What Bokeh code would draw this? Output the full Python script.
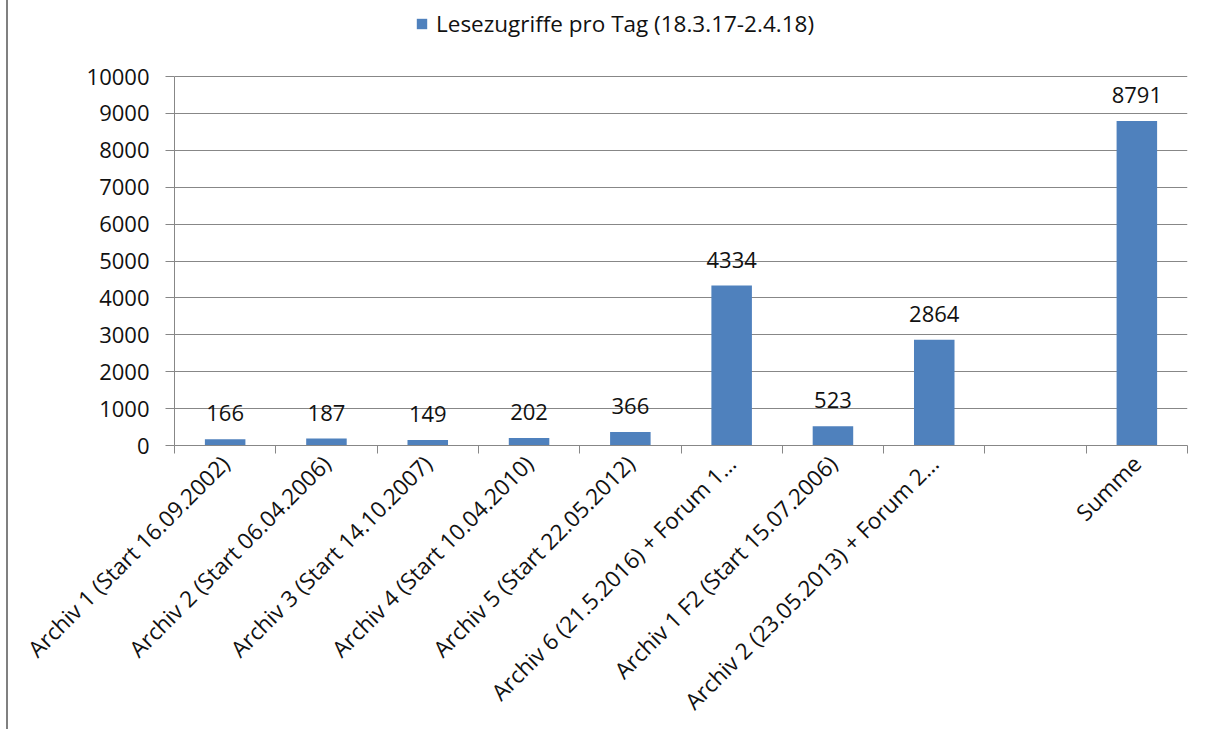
from math import pi

from bokeh.core.properties import value
from bokeh.embed import file_html
from bokeh.layouts import row
from bokeh.models import (ColumnDataSource, Div, FixedTicker, LabelSet,
                          Legend, LegendItem)
from bokeh.plotting import figure
from bokeh.resources import INLINE

# --- data -----------------------------------------------------------------
categories = [
    "Archiv 1 (Start 16.09.2002)",
    "Archiv 2 (Start 06.04.2006)",
    "Archiv 3 (Start 14.10.2007)",
    "Archiv 4 (Start 10.04.2010)",
    "Archiv 5 (Start 22.05.2012)",
    "Archiv 6 (21.5.2016) + Forum 1…",
    "Archiv 1 F2 (Start 15.07.2006)",
    "Archiv 2 (23.05.2013) + Forum 2…",
    "",
    "Summe",
]
values = [166, 187, 149, 202, 366, 4334, 523, 2864, None, 8791]
series_name = "Lesezugriffe pro Tag (18.3.17-2.4.18)"
y_ticks = list(range(0, 10001, 1000))
y_max = 10000

# --- styling --------------------------------------------------------------
FONT = "Open Sans"
BAR = "#4F81BD"
GRID = "#878787"
TEXT = "#111111"

FRAME_H = 445          # frame reaches the top edge; the legend sits inside it
AXIS_TOP = 76          # pixel row of the highest gridline

centers = [i + 0.5 for i in range(len(categories))]
tops = [float("nan") if v is None else v for v in values]
labels = ["" if v is None else str(v) for v in values]
src = ColumnDataSource(dict(x=centers, top=tops, label=labels))

y_end = y_max * FRAME_H / (FRAME_H - AXIS_TOP)

p = figure(
    width=1204, height=729,
    x_range=(0, len(categories)), y_range=(0, y_end),
    output_backend="svg", toolbar_location=None,
    min_border_left=166, min_border_right=25,
    min_border_top=0, min_border_bottom=729 - FRAME_H,
)
p.outline_line_color = None
p.background_fill_color = "white"
p.border_fill_color = "white"

bars = p.vbar(x="x", top="top", width=0.4, source=src,
              fill_color=BAR, line_color=None)

# value labels above each bar
p.add_layout(LabelSet(x="x", y="top", text="label", source=src,
                      text_align="center", text_baseline="alphabetic",
                      y_offset=18, text_font=value(FONT),
                      text_font_size="22px", text_color=TEXT))

# x axis: category names at bar centres, tick marks at category borders
xa = p.xaxis[0]
xa.ticker = FixedTicker(ticks=centers,
                        minor_ticks=list(range(len(categories) + 1)))
xa.major_label_overrides = {c: name for c, name in zip(centers, categories)}
xa.major_label_orientation = pi / 4
xa.major_tick_out = 0
xa.major_tick_in = 0
xa.minor_tick_out = 8
xa.minor_tick_in = 0
xa.minor_tick_line_color = GRID
xa.axis_line_color = GRID
xa.major_label_text_font = FONT
xa.major_label_text_font_size = "22.5px"
xa.major_label_text_color = TEXT
xa.major_label_standoff = 6

# y axis
ya = p.yaxis[0]
ya.ticker = FixedTicker(ticks=y_ticks)
ya.bounds = (0, y_max)
ya.major_tick_out = 9
ya.major_tick_in = 0
ya.minor_tick_out = 0
ya.minor_tick_in = 0
ya.major_tick_line_color = GRID
ya.axis_line_color = GRID
ya.major_label_text_font = FONT
ya.major_label_text_font_size = "22px"
ya.major_label_text_color = TEXT
ya.major_label_standoff = 16

p.xgrid.grid_line_color = None
p.ygrid.grid_line_color = GRID
p.ygrid.grid_line_width = 1

legend = Legend(
    items=[LegendItem(label=series_name, renderers=[bars])],
    location=(241, FRAME_H - 39), orientation="horizontal",
    glyph_width=13, glyph_height=13, label_standoff=8,
    padding=0, margin=0, border_line_color=None,
    background_fill_alpha=0,
    label_text_font=FONT, label_text_font_size="22.5px",
    label_text_color=TEXT,
)
p.add_layout(legend, "center")

edge = Div(text="", width=8, height=729, margin=0,
           styles={"border-right": "2px solid #808080"})

layout = row(edge, p, spacing=0)

with open("out.html", "w") as f:
    f.write(file_html(layout, INLINE))
